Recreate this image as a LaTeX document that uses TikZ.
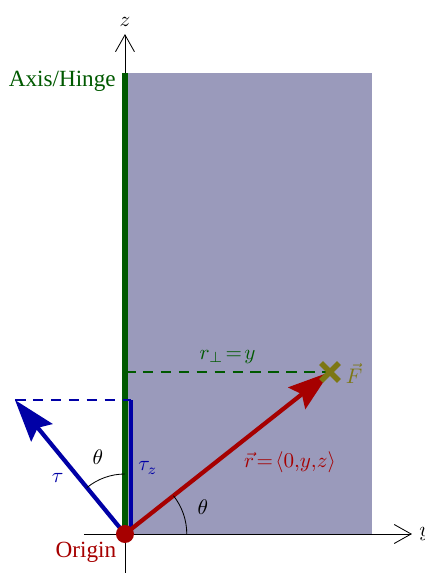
\documentclass[tikz,border=0pt]{standalone}
\usepackage{fontspec}
\setmainfont{Liberation Serif}
\usetikzlibrary{arrows.meta,calc}
\definecolor{plate}{RGB}{154,154,187}
\begin{document}
\begin{tikzpicture}[
    axisline/.style={-{Straight Barb[length=8pt,width=9pt]}},
    vec/.style={-{Stealth[length=20pt,width=13pt,inset=3pt]},line width=2pt},
    helper/.style={dashed,dash pattern=on 5pt off 3.5pt,line width=1pt},
    word/.style={font=\fontsize{11}{13}\selectfont}
  ]
    \useasboundingbox (-2.083,-0.65) rectangle (5.0,8.9);
    % the door / plate
    \fill[plate] (0,0) rectangle (4.117,7.683);
    \coordinate (O) at (0,0);
    \coordinate (F) at (3.417,2.7);
    \coordinate (T) at (-1.833,2.233);
    \coordinate (Tz) at (0.1,2.233);
    \coordinate (H) at (0,7.683);
    % axes
    \draw[axisline] (-0.683,0) -- (4.783,0) node[right] (ylab) {$y$};
    \draw[axisline] (0,-0.65) -- (0,8.333) node[above] (zlab) {$z$};
    % hinge
    \draw[green!35!black,line width=2.8pt] (O) -- (H);
    \node[word,green!35!black,left] (hinge) at (-0.03,7.55) {Axis/Hinge};
    % projections
    \draw[helper,green!35!black] (0,2.7) -- (F) node[midway,above] (rperp) {$r_\perp\!=\!y$};
    \draw[helper,blue!65!black] (T) -- (Tz);
    \draw[blue!65!black,line width=1.6pt] (0.1,0) -- (Tz);
    % vectors
    \draw[vec,red!65!black] (O) -- (F);
    \draw[vec,blue!65!black] (O) -- (T);
    % angles
    \draw (1.03,0) arc[start angle=0,end angle=38.3,radius=1.03];
    \draw (0,1) arc[start angle=90,end angle=129.4,radius=1];
    \node (th1) at (1.3,0.45) {$\theta$};
    \node (th2) at (-0.45,1.28) {$\theta$};
    % origin and force
    \fill[red!65!black] (O) circle (0.15);
    \node[word,red!65!black] (orig) at (-0.65,-0.3) {Origin};
    \draw[olive!85!black,line width=2.6pt] ($(F)+(-0.15,-0.15)$) -- ($(F)+(0.15,0.15)$);
    \draw[olive!85!black,line width=2.6pt] ($(F)+(-0.15,0.15)$) -- ($(F)+(0.15,-0.15)$);
    \node[olive!85!black,right,inner sep=1pt] (flab) at (3.64,2.68) {$\vec F$};
    % labels
    \node[red!65!black] (rlab) at (2.75,1.2) {$\vec r\!=\!\langle 0{,}y{,}z\rangle$};
    \node[blue!65!black] (tlab) at (-1.12,0.93) {$\tau$};
    \node[blue!65!black] (tzlab) at (0.38,1.1) {$\tau_z$};
\end{tikzpicture}
\end{document}
